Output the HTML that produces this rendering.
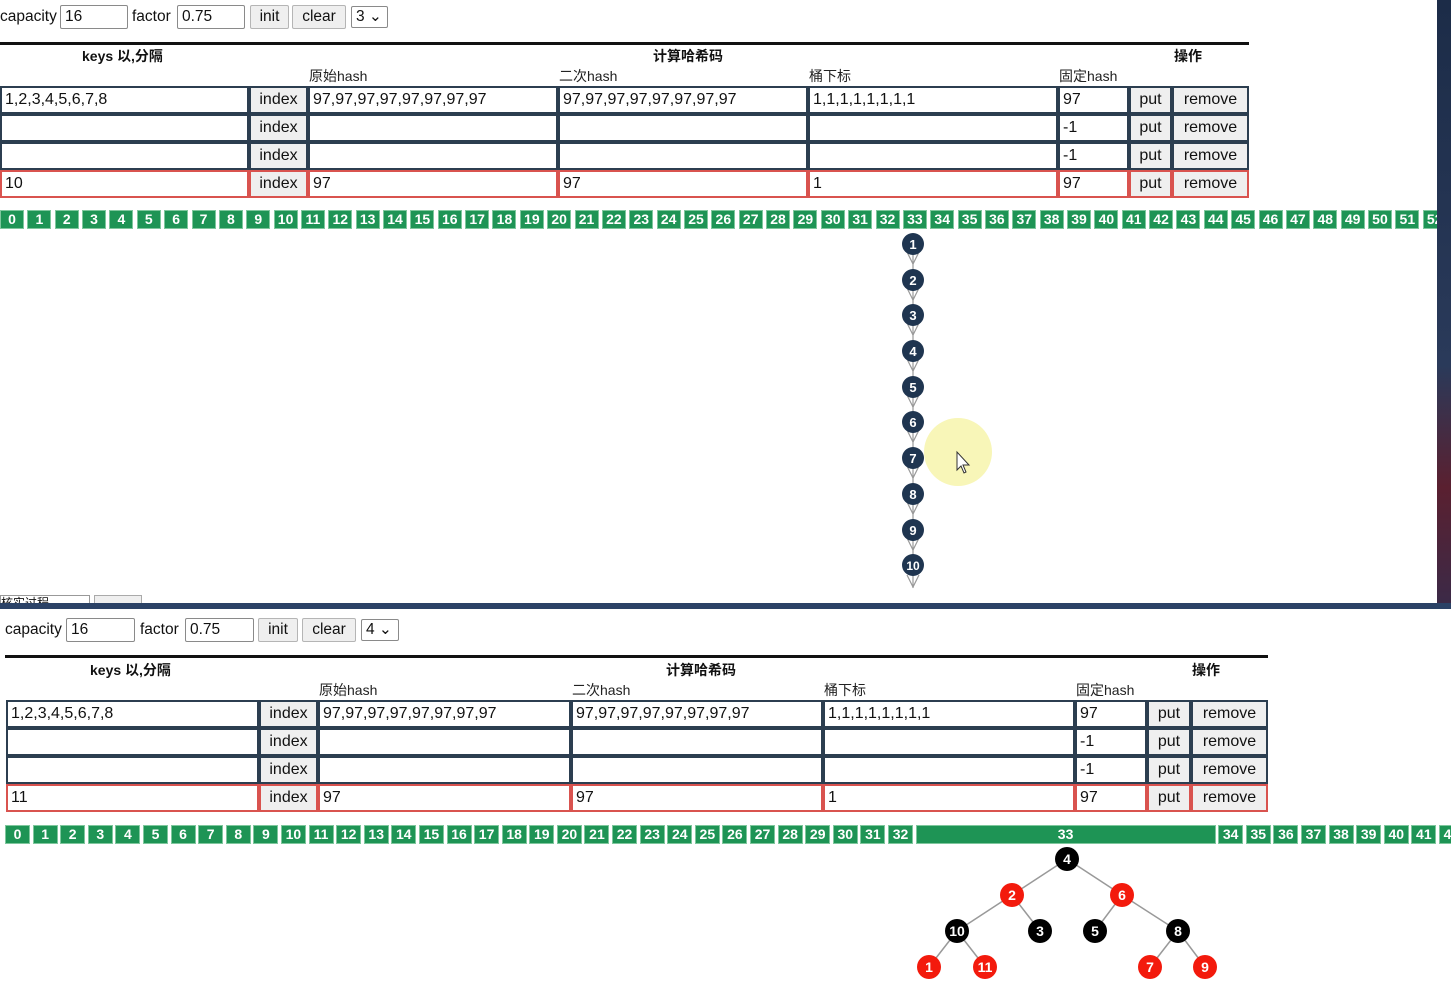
<!DOCTYPE html>
<html><head><meta charset="utf-8"><style>
*{margin:0;padding:0;box-sizing:border-box}
body{width:1451px;height:989px;position:relative;overflow:hidden;background:#fff;font-family:"Liberation Sans","Noto Sans CJK SC",sans-serif;color:#111}
.a{position:absolute}
.t{font-size:15.5px;line-height:24px;white-space:nowrap}
.in{position:absolute;border:1px solid #8a8a8a;border-radius:2px;background:#fff;font-size:15.5px;padding-left:4px;line-height:22px;height:24px}
.bt{position:absolute;border:1px solid #b5b5b5;border-radius:2px;background:#efefef;font-size:15.5px;text-align:center;line-height:22px;height:24px}
.c{position:absolute;border:2px solid #2c3e50;background:#fff;font-size:16px;padding-left:3px;line-height:24px;height:28px;white-space:nowrap;overflow:hidden}
.r{border-color:#d9534f}
.b{background:#efefef;text-align:center;padding-left:0}
.h{position:absolute;font-size:14px;font-weight:bold;white-space:nowrap}
.s{position:absolute;font-size:14px;white-space:nowrap;color:#222}
.bk{position:absolute;display:flex;gap:3.36px;white-space:nowrap}
.bk div{width:24px;height:19px;background:#1e9455;border:1px solid #7fc79d;color:#fff;font-weight:bold;font-size:14px;text-align:center;line-height:17px;flex:none}
.bk2{gap:2.6px}
.bk2 div{width:25px}
</style></head><body>
<div class="a" style="left:1437px;top:0;width:14px;height:609px;background:linear-gradient(#1c2c48,#2a3a5a 60%,#5a2030 80%,#3a2a48)"></div>
<div class="a" style="left:0;top:603px;width:1451px;height:6px;background:#2b4266"></div>

<div class="a t" style="left:0;top:5px">capacity</div>
<div class="in" style="left:60px;top:5px;width:68px">16</div>
<div class="a t" style="left:132px;top:5px">factor</div>
<div class="in" style="left:177px;top:5px;width:68px">0.75</div>
<div class="bt" style="left:250px;top:5px;width:39px">init</div>
<div class="bt" style="left:292px;top:5px;width:54px">clear</div>
<div class="in" style="left:351px;top:6px;width:37px;height:22px;line-height:20px">3 ⌄</div>

<div class="a" style="left:0;top:42px;width:1249px;height:3px;background:#111"></div>
<div class="h" style="left:82px;top:46px">keys 以,分隔</div>
<div class="h" style="left:653px;top:46px">计算哈希码</div>
<div class="h" style="left:1174px;top:46px">操作</div>
<div class="s" style="left:309px;top:66px">原始hash</div>
<div class="s" style="left:559px;top:66px">二次hash</div>
<div class="s" style="left:809px;top:66px">桶下标</div>
<div class="s" style="left:1059px;top:66px">固定hash</div>

<div class="c" style="left:0;top:86px;width:249px">1,2,3,4,5,6,7,8</div>
<div class="c b" style="left:249px;top:86px;width:59px">index</div>
<div class="c" style="left:308px;top:86px;width:250px">97,97,97,97,97,97,97,97</div>
<div class="c" style="left:558px;top:86px;width:250px">97,97,97,97,97,97,97,97</div>
<div class="c" style="left:808px;top:86px;width:250px">1,1,1,1,1,1,1,1</div>
<div class="c" style="left:1058px;top:86px;width:71px">97</div>
<div class="c b" style="left:1129px;top:86px;width:43px">put</div>
<div class="c b" style="left:1172px;top:86px;width:77px">remove</div>

<div class="c" style="left:0;top:114px;width:249px"></div>
<div class="c b" style="left:249px;top:114px;width:59px">index</div>
<div class="c" style="left:308px;top:114px;width:250px"></div>
<div class="c" style="left:558px;top:114px;width:250px"></div>
<div class="c" style="left:808px;top:114px;width:250px"></div>
<div class="c" style="left:1058px;top:114px;width:71px">-1</div>
<div class="c b" style="left:1129px;top:114px;width:43px">put</div>
<div class="c b" style="left:1172px;top:114px;width:77px">remove</div>

<div class="c" style="left:0;top:142px;width:249px"></div>
<div class="c b" style="left:249px;top:142px;width:59px">index</div>
<div class="c" style="left:308px;top:142px;width:250px"></div>
<div class="c" style="left:558px;top:142px;width:250px"></div>
<div class="c" style="left:808px;top:142px;width:250px"></div>
<div class="c" style="left:1058px;top:142px;width:71px">-1</div>
<div class="c b" style="left:1129px;top:142px;width:43px">put</div>
<div class="c b" style="left:1172px;top:142px;width:77px">remove</div>

<div class="c r" style="left:0;top:170px;width:249px">10</div>
<div class="c b r" style="left:249px;top:170px;width:59px">index</div>
<div class="c r" style="left:308px;top:170px;width:250px">97</div>
<div class="c r" style="left:558px;top:170px;width:250px">97</div>
<div class="c r" style="left:808px;top:170px;width:250px">1</div>
<div class="c r" style="left:1058px;top:170px;width:71px">97</div>
<div class="c b r" style="left:1129px;top:170px;width:43px">put</div>
<div class="c b r" style="left:1172px;top:170px;width:77px">remove</div>

<div class="a" style="left:0;top:210px;width:1437px;height:20px;overflow:hidden">
<div class="bk" style="left:0;top:0"><div>0</div><div>1</div><div>2</div><div>3</div><div>4</div><div>5</div><div>6</div><div>7</div><div>8</div><div>9</div><div>10</div><div>11</div><div>12</div><div>13</div><div>14</div><div>15</div><div>16</div><div>17</div><div>18</div><div>19</div><div>20</div><div>21</div><div>22</div><div>23</div><div>24</div><div>25</div><div>26</div><div>27</div><div>28</div><div>29</div><div>30</div><div>31</div><div>32</div><div>33</div><div>34</div><div>35</div><div>36</div><div>37</div><div>38</div><div>39</div><div>40</div><div>41</div><div>42</div><div>43</div><div>44</div><div>45</div><div>46</div><div>47</div><div>48</div><div>49</div><div>50</div><div>51</div><div>52</div></div>
</div>

<svg class="a" style="left:0;top:0" width="1451" height="989">
<circle cx="958" cy="452" r="34" fill="#f8f6b8"/>
<g stroke="#999" stroke-width="1.2" fill="none">
<line x1="913" y1="244" x2="913" y2="588"/>
<path d="M907 252l6 12 6-12M907 288l6 12 6-12M907 323l6 12 6-12M907 359l6 12 6-12M907 395l6 12 6-12M907 430l6 12 6-12M907 466l6 12 6-12M907 502l6 12 6-12M907 538l6 12 6-12M907 575l6 12 6-12"/>
</g>
<g fill="#1f3550"><circle cx="913" cy="244" r="11"/><circle cx="913" cy="280" r="11"/><circle cx="913" cy="315" r="11"/><circle cx="913" cy="351" r="11"/><circle cx="913" cy="387" r="11"/><circle cx="913" cy="422" r="11"/><circle cx="913" cy="458" r="11"/><circle cx="913" cy="494" r="11"/><circle cx="913" cy="530" r="11"/><circle cx="913" cy="565" r="11"/></g>
<g fill="#fff" font-family="Liberation Sans, sans-serif" font-weight="bold" font-size="13" text-anchor="middle">
<text x="913" y="249">1</text><text x="913" y="285">2</text><text x="913" y="320">3</text><text x="913" y="356">4</text><text x="913" y="392">5</text><text x="913" y="427">6</text><text x="913" y="463">7</text><text x="913" y="499">8</text><text x="913" y="535">9</text><text x="913" y="570" font-size="12">10</text>
</g>
<path d="M957 452l0 18 4-4 3 7 2-1-3-7 6 0z" fill="#fff" stroke="#333" stroke-width="1"/>
<g stroke="#999" stroke-width="1.5">
<line x1="1067" y1="859" x2="1012" y2="895"/><line x1="1067" y1="859" x2="1122" y2="895"/>
<line x1="1012" y1="895" x2="957" y2="931"/><line x1="1012" y1="895" x2="1040" y2="931"/>
<line x1="1122" y1="895" x2="1095" y2="931"/><line x1="1122" y1="895" x2="1178" y2="931"/>
<line x1="957" y1="931" x2="929" y2="967"/><line x1="957" y1="931" x2="985" y2="967"/>
<line x1="1178" y1="931" x2="1150" y2="967"/><line x1="1178" y1="931" x2="1205" y2="967"/>
</g>
<g fill="#000"><circle cx="1067" cy="859" r="12"/><circle cx="957" cy="931" r="12"/><circle cx="1040" cy="931" r="12"/><circle cx="1095" cy="931" r="12"/><circle cx="1178" cy="931" r="12"/></g>
<g fill="#f31a0c"><circle cx="1012" cy="895" r="12"/><circle cx="1122" cy="895" r="12"/><circle cx="929" cy="967" r="12"/><circle cx="985" cy="967" r="12"/><circle cx="1150" cy="967" r="12"/><circle cx="1205" cy="967" r="12"/></g>
<g fill="#fff" font-family="Liberation Sans, sans-serif" font-weight="bold" font-size="14" text-anchor="middle">
<text x="1067" y="864">4</text><text x="1012" y="900">2</text><text x="1122" y="900">6</text><text x="957" y="936">10</text><text x="1040" y="936">3</text><text x="1095" y="936">5</text><text x="1178" y="936">8</text><text x="929" y="972">1</text><text x="985" y="972">11</text><text x="1150" y="972">7</text><text x="1205" y="972">9</text>
</g>
</svg>

<div class="a" style="left:0;top:595px;width:90px;height:8px;border:1px solid #999;border-bottom:none;overflow:hidden;font-size:12px;line-height:14px">核实过程</div>
<div class="a" style="left:94px;top:595px;width:48px;height:8px;border:1px solid #aaa;border-bottom:none;background:#efefef"></div>

<div class="a t" style="left:5px;top:618px">capacity</div>
<div class="in" style="left:66px;top:618px;width:69px">16</div>
<div class="a t" style="left:140px;top:618px">factor</div>
<div class="in" style="left:185px;top:618px;width:69px">0.75</div>
<div class="bt" style="left:258px;top:618px;width:40px">init</div>
<div class="bt" style="left:302px;top:618px;width:54px">clear</div>
<div class="in" style="left:361px;top:619px;width:38px;height:22px;line-height:20px">4 ⌄</div>

<div class="a" style="left:5px;top:655px;width:1263px;height:3px;background:#111"></div>
<div class="h" style="left:90px;top:660px">keys 以,分隔</div>
<div class="h" style="left:666px;top:660px">计算哈希码</div>
<div class="h" style="left:1192px;top:660px">操作</div>
<div class="s" style="left:319px;top:680px">原始hash</div>
<div class="s" style="left:572px;top:680px">二次hash</div>
<div class="s" style="left:824px;top:680px">桶下标</div>
<div class="s" style="left:1076px;top:680px">固定hash</div>

<div class="c" style="left:6px;top:700px;width:253px">1,2,3,4,5,6,7,8</div>
<div class="c b" style="left:259px;top:700px;width:59px">index</div>
<div class="c" style="left:318px;top:700px;width:253px">97,97,97,97,97,97,97,97</div>
<div class="c" style="left:571px;top:700px;width:252px">97,97,97,97,97,97,97,97</div>
<div class="c" style="left:823px;top:700px;width:252px">1,1,1,1,1,1,1,1</div>
<div class="c" style="left:1075px;top:700px;width:72px">97</div>
<div class="c b" style="left:1147px;top:700px;width:44px">put</div>
<div class="c b" style="left:1191px;top:700px;width:77px">remove</div>

<div class="c" style="left:6px;top:728px;width:253px"></div>
<div class="c b" style="left:259px;top:728px;width:59px">index</div>
<div class="c" style="left:318px;top:728px;width:253px"></div>
<div class="c" style="left:571px;top:728px;width:252px"></div>
<div class="c" style="left:823px;top:728px;width:252px"></div>
<div class="c" style="left:1075px;top:728px;width:72px">-1</div>
<div class="c b" style="left:1147px;top:728px;width:44px">put</div>
<div class="c b" style="left:1191px;top:728px;width:77px">remove</div>

<div class="c" style="left:6px;top:756px;width:253px"></div>
<div class="c b" style="left:259px;top:756px;width:59px">index</div>
<div class="c" style="left:318px;top:756px;width:253px"></div>
<div class="c" style="left:571px;top:756px;width:252px"></div>
<div class="c" style="left:823px;top:756px;width:252px"></div>
<div class="c" style="left:1075px;top:756px;width:72px">-1</div>
<div class="c b" style="left:1147px;top:756px;width:44px">put</div>
<div class="c b" style="left:1191px;top:756px;width:77px">remove</div>

<div class="c r" style="left:6px;top:784px;width:253px">11</div>
<div class="c b r" style="left:259px;top:784px;width:59px">index</div>
<div class="c r" style="left:318px;top:784px;width:253px">97</div>
<div class="c r" style="left:571px;top:784px;width:252px">97</div>
<div class="c r" style="left:823px;top:784px;width:252px">1</div>
<div class="c r" style="left:1075px;top:784px;width:72px">97</div>
<div class="c b r" style="left:1147px;top:784px;width:44px">put</div>
<div class="c b r" style="left:1191px;top:784px;width:77px">remove</div>

<div class="a" style="left:0;top:825px;width:1451px;height:20px;overflow:hidden">
<div class="bk bk2" style="left:5px;top:0"><div>0</div><div>1</div><div>2</div><div>3</div><div>4</div><div>5</div><div>6</div><div>7</div><div>8</div><div>9</div><div>10</div><div>11</div><div>12</div><div>13</div><div>14</div><div>15</div><div>16</div><div>17</div><div>18</div><div>19</div><div>20</div><div>21</div><div>22</div><div>23</div><div>24</div><div>25</div><div>26</div><div>27</div><div>28</div><div>29</div><div>30</div><div>31</div><div>32</div><div style="width:300px">33</div><div>34</div><div>35</div><div>36</div><div>37</div><div>38</div><div>39</div><div>40</div><div>41</div><div>42</div></div>
</div>
</body></html>
